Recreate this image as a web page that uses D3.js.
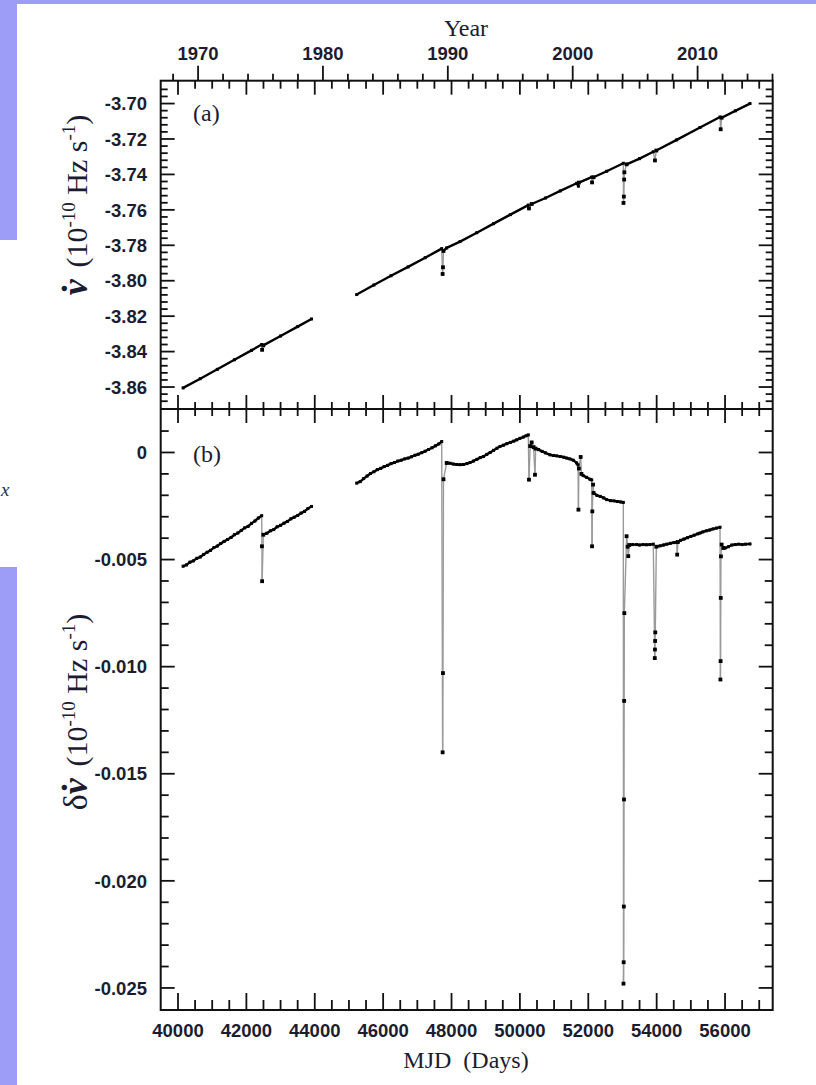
<!DOCTYPE html>
<html><head><meta charset="utf-8">
<script src="https://cdn.jsdelivr.net/npm/d3@7"></script>
<style>body{margin:0;background:#fff}svg{display:block}</style>
</head><body><svg id="c" width="816" height="1085"></svg>
<script>
// ---------- data ----------
const yearLabels = [1970, 1980, 1990, 2000, 2010];
const mjdLabels = [40000, 42000, 44000, 46000, 48000, 50000, 52000, 54000, 56000];
const nuDotTickValues = [-3.70, -3.72, -3.74, -3.76, -3.78, -3.80, -3.82, -3.84, -3.86];
const nuDotTickLabels = ["-3.70", "-3.72", "-3.74", "-3.76", "-3.78", "-3.80", "-3.82", "-3.84", "-3.86"];
const dNuDotTickValues = [0, -0.005, -0.010, -0.015, -0.020, -0.025];
const dNuDotTickLabels = ["0", "-0.005", "-0.010", "-0.015", "-0.020", "-0.025"];

// panel (a): spin-down rate nu-dot (1e-10 Hz/s); null = data gap
const mjdA = [40150, 40650, 41150, 41650, 42150, 42448, 42460, 42495, 43000, 43500, 43904, null,
  45227, 45730, 46230, 46730, 47230, 47713, 47740, 47750, 47765, 47858, 48250, 48740, 49230, 49720,
  50246, 50265, 50345, 50750, 51180, 51661, 51712, 51725, 52100, 52110, 52155, 52538, 53025, 53030,
  53040, 53050, 53055, 53121, 53500, 53901, 53950, 53990, 54585, 55268, 55853, 55873, 55901, 56300, 56730];
const nuDotA = [-3.8605, -3.8553, -3.8500, -3.8446, -3.8393, -3.8360, -3.8390, -3.8365, -3.8312, -3.8259, -3.8216, null,
  -3.8078, -3.8024, -3.7972, -3.7922, -3.7870, -3.7819, -3.7962, -3.7924, -3.7832, -3.7815, -3.7779, -3.7729, -3.7678, -3.7627,
  -3.7573, -3.7592, -3.7567, -3.7533, -3.7493, -3.7450, -3.7466, -3.7446, -3.7415, -3.7445, -3.7416, -3.7382, -3.7337, -3.7561,
  -3.7525, -3.7429, -3.7388, -3.7343, -3.7311, -3.7272, -3.7321, -3.7265, -3.7205, -3.7135, -3.7076, -3.7145, -3.7080, -3.7041, -3.7000];

// panel (b): residual delta nu-dot (1e-10 Hz/s); null = data gap
const mjdB = [40150, 40250, 40350, 40450, 40550, 40650, 40750, 40850, 40950, 41050, 41150, 41250, 41350, 41450, 41550,
  41650, 41750, 41850, 41950, 42050, 42150, 42250, 42350, 42448, 42455, 42460, 42495, 42600, 42700, 42800, 42900, 43000,
  43100, 43200, 43300, 43400, 43500, 43600, 43700, 43800, 43904, null,
  45227, 45330, 45430, 45530, 45630, 45730, 45830, 45930, 46030, 46130, 46230, 46330, 46430, 46530, 46630, 46730, 46830,
  46930, 47030, 47130, 47230, 47330, 47430, 47530, 47630, 47713, 47740, 47750, 47765, 47858, 47956, 48050, 48150, 48250,
  48350, 48450, 48540, 48640, 48740, 48840, 48930, 49030, 49130, 49230, 49330, 49418, 49520, 49620, 49720, 49820, 49906,
  50000, 50100, 50180, 50246, 50265, 50300, 50345, 50400, 50441, 50460, 50550, 50650, 50750, 50880, 50980, 51080, 51180,
  51280, 51368, 51460, 51560, 51661, 51700, 51712, 51725, 51778, 51800, 51850, 51950, 52050, 52100, 52110, 52118, 52140,
  52155, 52250, 52350, 52450, 52538, 52650, 52750, 52850, 52950, 53025, 53030, 53035, 53040, 53045, 53050, 53055, 53121,
  53150, 53170, 53200, 53300, 53413, 53500, 53600, 53700, 53800, 53901, 53945, 53950, 53955, 53960, 53990, 54100, 54200,
  54300, 54400, 54500, 54585, 54600, 54620, 54700, 54800, 54900, 55000, 55100, 55200, 55268, 55350, 55450, 55550, 55650,
  55750, 55853, 55865, 55870, 55875, 55880, 55901, 55950, 56000, 56100, 56200, 56300, 56400, 56500, 56600, 56730];
const dNuDotB = [-0.00531, -0.00525, -0.00512, -0.00506, -0.00494, -0.00488, -0.00476, -0.00466, -0.00457, -0.00444, -0.00437,
  -0.00425, -0.00415, -0.00406, -0.00397, -0.00384, -0.00376, -0.00364, -0.00352, -0.00345, -0.00331, -0.00320, -0.00306,
  -0.00295, -0.00438, -0.00601, -0.00384, -0.00377, -0.00366, -0.00360, -0.00347, -0.00340, -0.00330, -0.00322, -0.00310,
  -0.00302, -0.00294, -0.00283, -0.00275, -0.00262, -0.00252, null,
  -0.00143, -0.00136, -0.00122, -0.00110, -0.00098, -0.00090, -0.00080, -0.00074, -0.00066, -0.00060, -0.00052, -0.00047,
  -0.00040, -0.00036, -0.00030, -0.00026, -0.00020, -0.00013, -0.00008, -0.00001, 0.00006, 0.00014, 0.00022, 0.00031,
  0.00040, 0.00051, -0.01400, -0.01030, -0.00125, -0.00049, -0.00050, -0.00054, -0.00056, -0.00057, -0.00056, -0.00052,
  -0.00047, -0.00040, -0.00032, -0.00024, -0.00019, -0.00009, 0.00000, 0.00010, 0.00020, 0.00028, 0.00034, 0.00041, 0.00047,
  0.00053, 0.00059, 0.00066, 0.00072, 0.00078, 0.00082, -0.00127, 0.00030, 0.00047, 0.00025, -0.00104, 0.00018, 0.00013,
  0.00005, -0.00002, -0.00011, -0.00014, -0.00016, -0.00019, -0.00022, -0.00026, -0.00030, -0.00036, -0.00049, -0.00058,
  -0.00267, -0.00075, -0.00021, -0.00100, -0.00108, -0.00116, -0.00125, -0.00128, -0.00438, -0.00275, -0.00150, -0.00189,
  -0.00200, -0.00205, -0.00212, -0.00220, -0.00225, -0.00226, -0.00229, -0.00231, -0.00233, -0.02480, -0.02380, -0.02120,
  -0.01620, -0.01160, -0.00750, -0.00391, -0.00440, -0.00484, -0.00432, -0.00430, -0.00430, -0.00432, -0.00430, -0.00431,
  -0.00430, -0.00428, -0.00960, -0.00920, -0.00880, -0.00840, -0.00440, -0.00436, -0.00432, -0.00428, -0.00424, -0.00421,
  -0.00419, -0.00477, -0.00418, -0.00410, -0.00404, -0.00398, -0.00392, -0.00386, -0.00380, -0.00376, -0.00371, -0.00366,
  -0.00362, -0.00357, -0.00353, -0.00349, -0.01060, -0.00974, -0.00679, -0.00485, -0.00430, -0.00446, -0.00446, -0.00440,
  -0.00432, -0.00430, -0.00428, -0.00430, -0.00428, -0.00427];

// ---------- layout ----------
const svg = d3.select('#c');
const L = 160.7, R = 772.7, TA = 80.7, MID = 409, BB = 1010;
const x = d3.scaleLinear().domain([39494, 57394]).range([L, R]);
const yA = d3.scaleLinear().domain([-3.8724, -3.6871]).range([MID, TA]);
const yB = d3.scaleLinear().domain([-0.02603, 0.00203]).range([BB, MID]);
const yearToMjd = yr => 51544.5 + (yr - 2000) * 365.25;

const INK = '#111', TXT = '#1c1c30', LAV = '#9d9cf6';
const sans = '"Liberation Sans", Arial, Helvetica, sans-serif';
const serif = '"Liberation Serif", "Times New Roman", Times, serif';

svg.append('rect').attr('width', 816).attr('height', 1085).attr('fill', '#fff');
svg.append('rect').attr('x', 0).attr('y', 0).attr('width', 816).attr('height', 4).attr('fill', LAV);
svg.append('rect').attr('x', 0).attr('y', 0).attr('width', 17).attr('height', 240).attr('fill', LAV);
svg.append('rect').attr('x', 0).attr('y', 567).attr('width', 17).attr('height', 518).attr('fill', LAV);
svg.append('text').attr('x', 1).attr('y', 496).attr('font-family', serif).attr('font-style', 'italic')
  .attr('font-size', 19).attr('fill', '#333').text('x');

const gAx = svg.append('g').attr('stroke', INK).attr('stroke-width', 1.8).attr('fill', 'none');
function seg(x1, y1, x2, y2) { gAx.append('line').attr('x1', x1).attr('y1', y1).attr('x2', x2).attr('y2', y2); }

// x ticks (MJD), every 500 d, major every 2000 d
d3.range(39500, 57401, 500).forEach(m => {
  const xp = x(m);
  if (xp < L + 2 || xp > R - 2) return;
  const major = m % 2000 === 0;
  seg(xp, BB, xp, BB - (major ? 17 : 10));
  seg(xp, MID - (major ? 14 : 7), xp, MID + (major ? 14 : 7));
  seg(xp, TA, xp, TA + (major ? 14 : 8));
});
// year ticks on top, outward
d3.range(1968, 2017, 2).forEach(yr => {
  const xp = x(yearToMjd(yr));
  if (xp < L - 1 || xp > R + 1) return;
  const major = yr % 10 === 0;
  seg(xp, TA, xp, TA - (major ? 15 : 7));
});
// y ticks panel a
d3.range(-43, 4).forEach(k => {
  const yp = yA(-3.70 + k * 0.004);
  if (yp < TA + 2 || yp > MID - 2) return;
  const len = (k % 5 === 0) ? 14 : 7;
  seg(L, yp, L + len, yp); seg(R, yp, R - len, yp);
});
// y ticks panel b
d3.range(-26, 3).forEach(k => {
  const yp = yB(k * 0.001);
  if (yp < MID + 2 || yp > BB - 2) return;
  const len = (k % 5 === 0) ? 14 : 8;
  seg(L, yp, L + len, yp); seg(R, yp, R - len, yp);
});
// frames
gAx.append('rect').attr('x', L).attr('y', TA).attr('width', R - L).attr('height', BB - TA).attr('stroke-width', 2);
seg(L, MID, R, MID);

// tick labels
const lab = svg.append('g').attr('font-family', sans).attr('font-weight', 'bold').attr('font-size', 18.5).attr('fill', TXT);
nuDotTickValues.forEach((v, i) => lab.append('text').attr('x', 147).attr('y', yA(v)).attr('dy', '0.36em')
  .attr('text-anchor', 'end').text(nuDotTickLabels[i]));
dNuDotTickValues.forEach((v, i) => lab.append('text').attr('x', 147).attr('y', yB(v)).attr('dy', '0.36em')
  .attr('text-anchor', 'end').text(dNuDotTickLabels[i]));
mjdLabels.forEach(m => lab.append('text').attr('x', x(m)).attr('y', 1037).attr('text-anchor', 'middle').text(m));
yearLabels.forEach(yr => lab.append('text').attr('x', x(yearToMjd(yr))).attr('y', 60).attr('text-anchor', 'middle').text(yr));

// titles
const tt = svg.append('g').attr('font-family', serif).attr('fill', TXT);
tt.append('text').attr('x', 466).attr('y', 36).attr('text-anchor', 'middle').attr('font-size', 24).text('Year');
tt.append('text').attr('x', 466).attr('y', 1068).attr('text-anchor', 'middle').attr('font-size', 24)
  .style('white-space', 'pre').text('MJD  (Days)');
tt.append('text').attr('x', 193).attr('y', 121).attr('font-size', 24).text('(a)');
tt.append('text').attr('x', 193).attr('y', 462).attr('font-size', 24).text('(b)');

function yTitle(cx, cy, pre) {
  const t = tt.append('text').attr('transform', `translate(${cx},${cy}) rotate(-90)`)
    .attr('text-anchor', 'middle').attr('font-size', 30).style('white-space', 'pre');
  if (pre) t.append('tspan').attr('font-size', 34).text(pre);
  t.append('tspan').attr('font-size', 36).attr('font-style', 'italic').attr('font-weight', 'bold').text('ν');
  t.append('tspan').attr('font-size', 36).attr('font-weight', 'bold').attr('dx', '-0.42em').text('\u02D9');
  t.append('tspan').text('  (10');
  t.append('tspan').attr('font-size', 19).attr('dy', -12).text('-10');
  t.append('tspan').attr('dy', 12).text(' Hz s');
  t.append('tspan').attr('font-size', 19).attr('dy', -12).text('-1');
  t.append('tspan').attr('dy', 12).text(')');
}
yTitle(87, 205, '');
yTitle(87, 712, 'δ');

// ---------- data drawing ----------
function drawSeries(mjds, vals, ys) {
  const g = svg.append('g');
  const pts = mjds.map((m, i) => (m === null || vals[i] === null) ? null : [x(m), ys(vals[i])]);
  const big = pts.map(() => false);
  const lines = [];
  for (let i = 0; i < pts.length - 1; i++) {
    const a = pts[i], b = pts[i + 1];
    if (!a || !b) continue;
    const dx = Math.abs(b[0] - a[0]), dy = Math.abs(b[1] - a[1]);
    const steep = dy > 3 && dy > 1.5 * dx;
    if (steep) { big[i + 1] = true; }
    lines.push({ a, b, steep });
  }
  lines.sort((p, q) => (q.steep ? 1 : 0) - (p.steep ? 1 : 0));
  lines.forEach(l => g.append('line').attr('x1', l.a[0]).attr('y1', l.a[1]).attr('x2', l.b[0]).attr('y2', l.b[1])
      .attr('stroke', l.steep ? '#9a9a9a' : '#000').attr('stroke-width', l.steep ? 1.4 : 2.4)
      .attr('stroke-linecap', 'round'));
  const marks = pts.map((p, i) => p ? { p, s: big[i] ? 3.8 : 3.0 } : null).filter(d => d);
  g.selectAll('rect').data(marks).join('rect')
    .attr('x', d => d.p[0] - d.s / 2).attr('y', d => d.p[1] - d.s / 2)
    .attr('width', d => d.s).attr('height', d => d.s).attr('fill', '#000');
}
drawSeries(mjdA, nuDotA, yA);
drawSeries(mjdB, dNuDotB, yB);
</script></body></html>
